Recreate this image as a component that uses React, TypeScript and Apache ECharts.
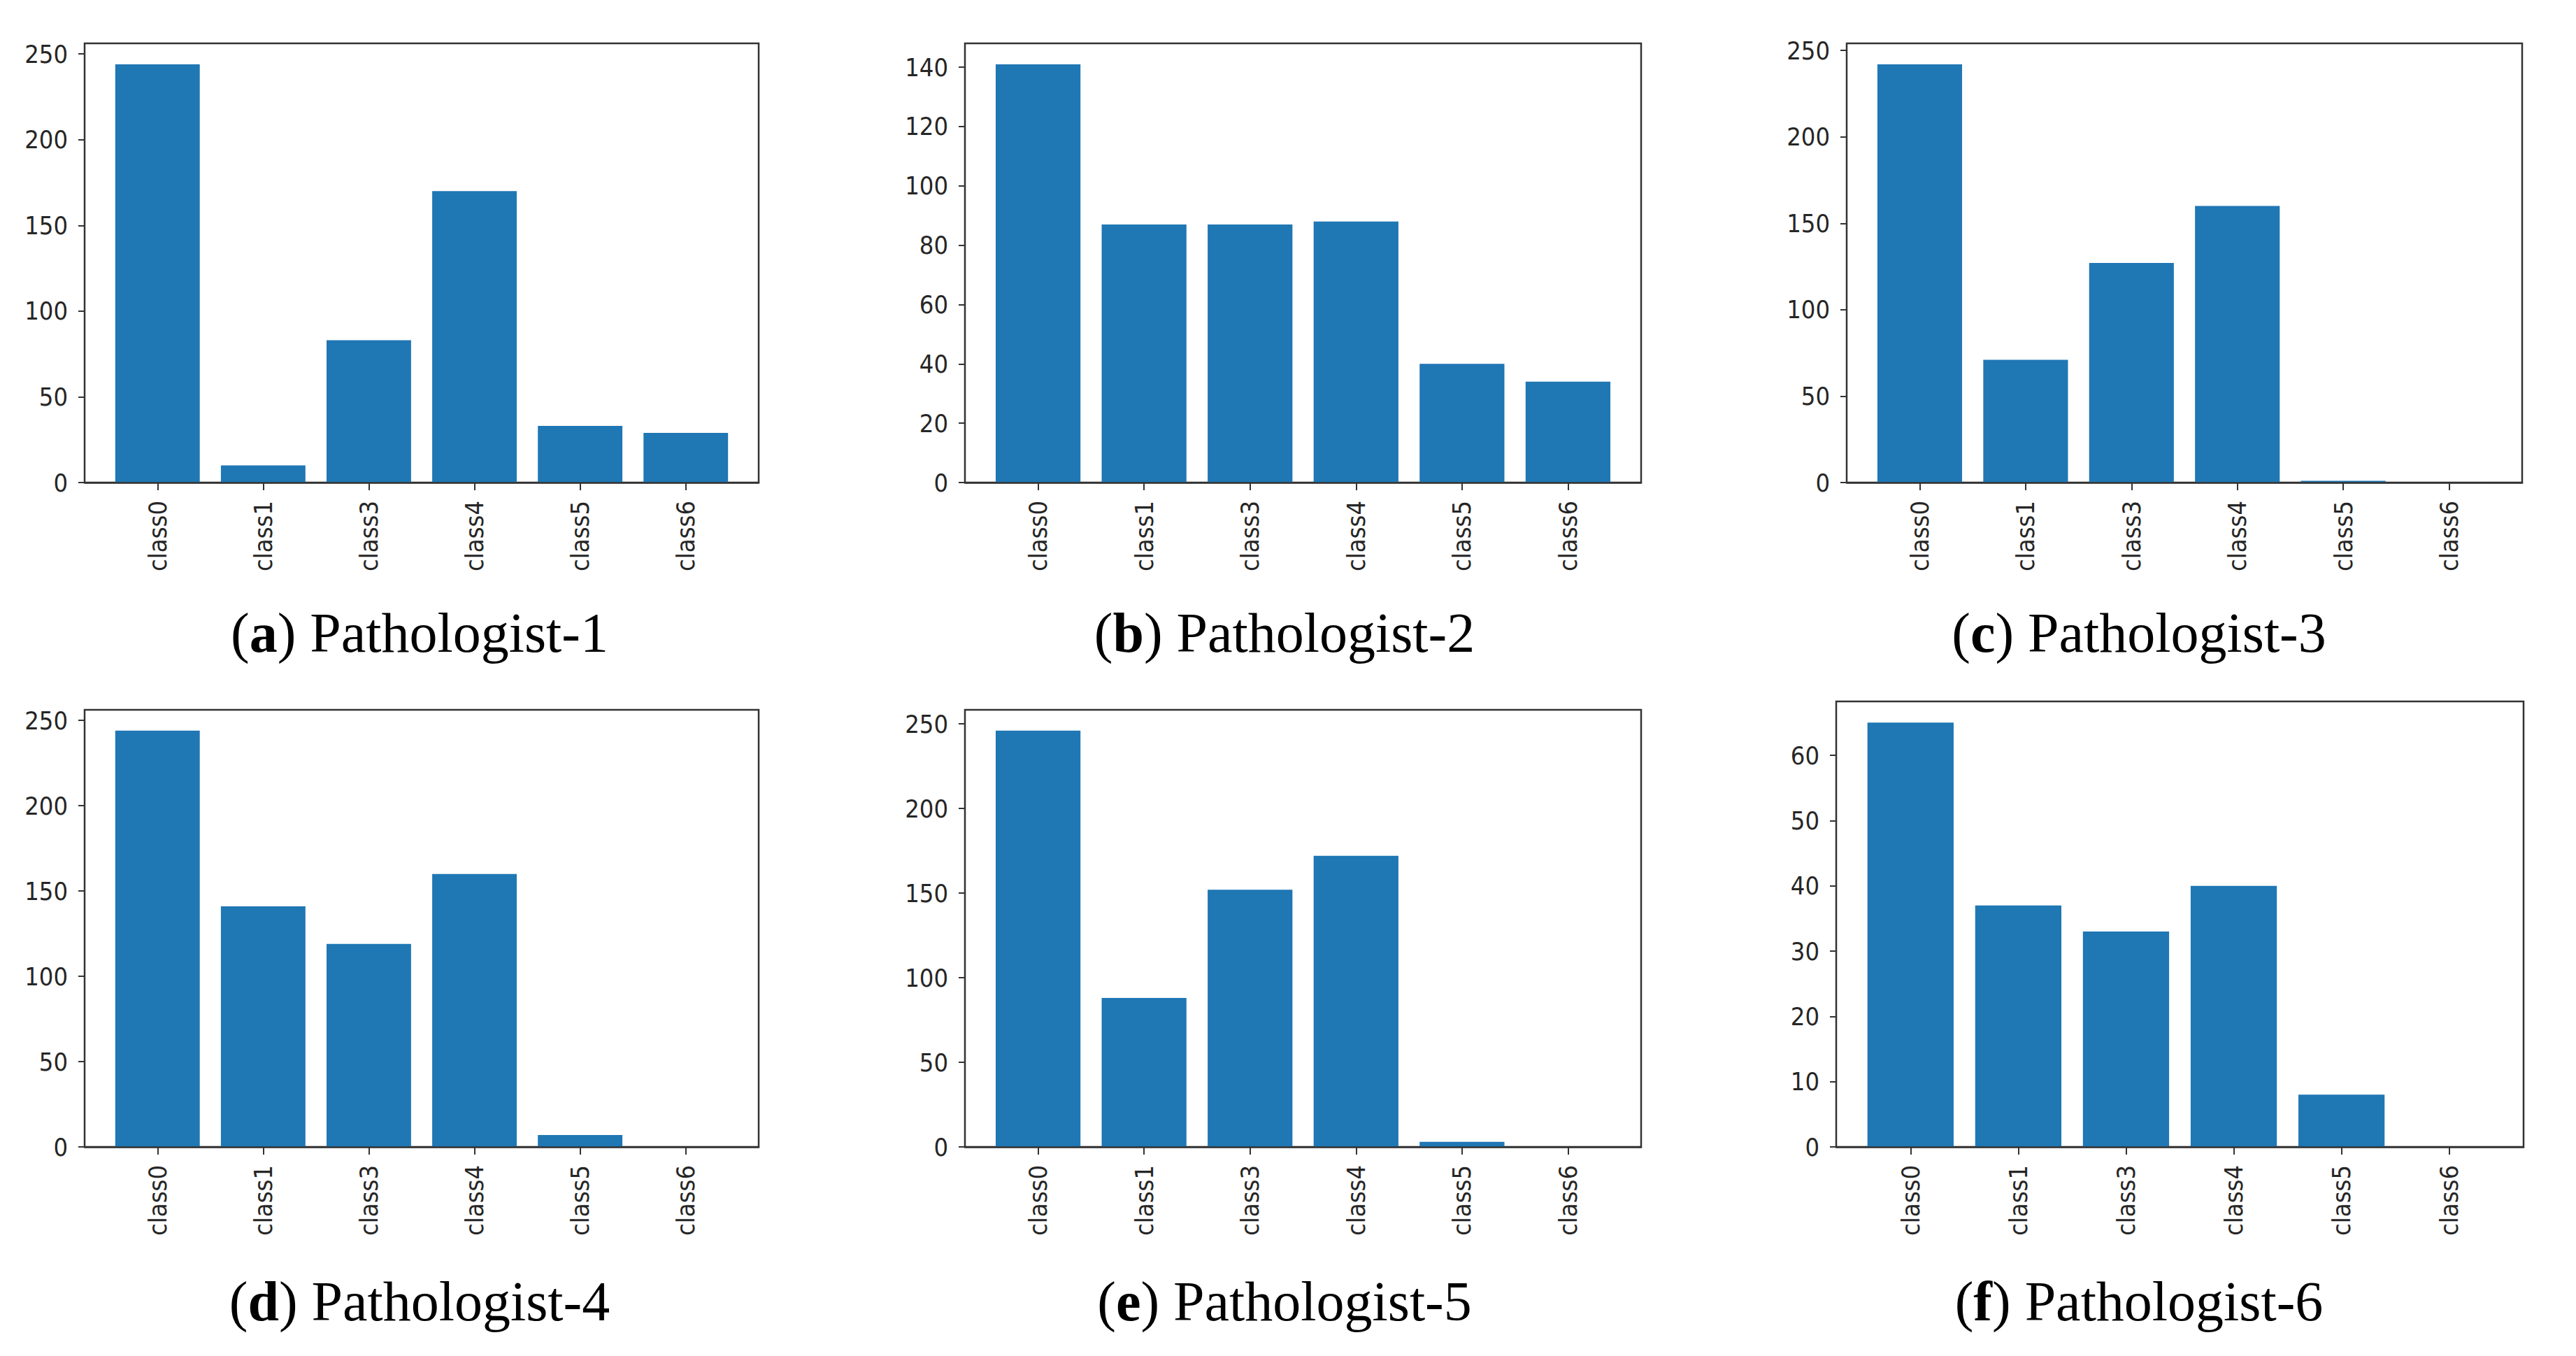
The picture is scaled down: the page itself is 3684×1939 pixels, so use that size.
import React, { useEffect, useRef } from "react";
import * as echarts from "echarts";

// ---- data ----
const CATEGORIES = ["class0", "class1", "class3", "class4", "class5", "class6"];

const PATHOLOGIST_1 = [244, 10, 83, 170, 33, 29];
const PATHOLOGIST_2 = [141, 87, 87, 88, 40, 34];
const PATHOLOGIST_3 = [242, 71, 127, 160, 1, 0];
const PATHOLOGIST_4 = [244, 141, 119, 160, 7, 0];
const PATHOLOGIST_5 = [246, 88, 152, 172, 3, 0];
const PATHOLOGIST_6 = [65, 37, 33, 40, 8, 0];

const TICKS_250 = [0, 50, 100, 150, 200, 250];
const TICKS_140 = [0, 20, 40, 60, 80, 100, 120, 140];
const TICKS_60 = [0, 10, 20, 30, 40, 50, 60];

const PANEL_LETTERS = ["a", "b", "c", "d", "e", "f"];
const PANEL_TITLES = [
  "Pathologist-1",
  "Pathologist-2",
  "Pathologist-3",
  "Pathologist-4",
  "Pathologist-5",
  "Pathologist-6",
];
const PANEL_VALUES = [
  PATHOLOGIST_1,
  PATHOLOGIST_2,
  PATHOLOGIST_3,
  PATHOLOGIST_4,
  PATHOLOGIST_5,
  PATHOLOGIST_6,
];
const PANEL_TICKS = [TICKS_250, TICKS_140, TICKS_250, TICKS_250, TICKS_250, TICKS_60];

// ---- layout (pixels) ----
const GRIDS = [
  { left: 121, top: 62, width: 964, height: 628 },
  { left: 1380, top: 62, width: 967, height: 628 },
  { left: 2641, top: 62, width: 966, height: 628 },
  { left: 121, top: 1015, width: 964, height: 625 },
  { left: 1380, top: 1015, width: 967, height: 625 },
  { left: 2626, top: 1003, width: 983, height: 637 },
];
const TITLE_POS = [
  { x: 600, y: 905 },
  { x: 1837, y: 905 },
  { x: 3059, y: 905 },
  { x: 600, y: 1861 },
  { x: 1837, y: 1861 },
  { x: 3059, y: 1861 },
];

const BAR_COLOR = "#1f77b4";
const AXIS_COLOR = "#333333";
const LABEL_FONT = '"Liberation Sans Narrow", "DejaVu Sans Condensed", "Liberation Sans", sans-serif';
const TITLE_FONT = '"Liberation Serif", "DejaVu Serif", serif';

export default function App() {
  const ref = useRef<HTMLDivElement>(null);

  useEffect(() => {
    if (!ref.current) return;
    const chart = echarts.init(ref.current, undefined, { renderer: "svg" });

    const grid: any[] = [];
    const xAxis: any[] = [];
    const yAxis: any[] = [];
    const series: any[] = [];
    const graphic: any[] = [];

    PANEL_VALUES.forEach((vals, i) => {
      const g = GRIDS[i];
      grid.push({
        left: g.left,
        top: g.top,
        width: g.width,
        height: g.height,
        show: true,
        borderColor: AXIS_COLOR,
        borderWidth: 2.5,
        backgroundColor: "transparent",
        containLabel: false,
      });
      const catIdx = CATEGORIES.map((_, k) => k);
      xAxis.push({
        type: "value",
        gridIndex: i,
        position: "bottom",
        min: -0.69,
        max: CATEGORIES.length - 1 + 0.69,
        z: 10,
        splitLine: { show: false },
        axisLine: { show: true, onZero: false, lineStyle: { color: AXIS_COLOR, width: 2.5 } },
        axisTick: {
          show: true,
          customValues: catIdx,
          length: 11,
          lineStyle: { color: AXIS_COLOR, width: 2 },
        },
        axisLabel: {
          show: true,
          customValues: catIdx,
          rotate: 90,
          margin: 26,
          fontSize: 36,
          fontFamily: LABEL_FONT,
          color: "#262626",
          formatter: (v: number) => CATEGORIES[Math.round(v)] ?? "",
        },
      });
      const ticks = PANEL_TICKS[i];
      yAxis.push({
        type: "value",
        gridIndex: i,
        position: "left",
        min: 0,
        max: Math.max(...vals) * 1.05,
        splitLine: { show: false },
        axisLine: { show: false, onZero: false },
        axisTick: {
          show: true,
          customValues: ticks,
          length: 9,
          lineStyle: { color: AXIS_COLOR, width: 2 },
        },
        axisLabel: {
          show: true,
          customValues: ticks,
          margin: 24,
          fontSize: 36,
          fontFamily: LABEL_FONT,
          color: "#262626",
        },
      });
      series.push({
        type: "bar",
        xAxisIndex: i,
        yAxisIndex: i,
        barWidth: "80%",
        itemStyle: { color: BAR_COLOR },
        data: vals.map((v, k) => [k, v]),
        silent: true,
      });
      const t = TITLE_POS[i];
      graphic.push({
        type: "text",
        x: t.x,
        y: t.y,
        style: {
          text: `{p|(}{b|${PANEL_LETTERS[i]}}{p|) ${PANEL_TITLES[i]}}`,
          align: "center",
          verticalAlign: "middle",
          rich: {
            p: { fontFamily: TITLE_FONT, fontSize: 80, fill: "#000", color: "#000" },
            b: { fontFamily: TITLE_FONT, fontSize: 80, fontWeight: "bold", fill: "#000", color: "#000" },
          },
        },
      });
    });

    chart.setOption({
      animation: false,
      backgroundColor: "#ffffff",
      grid,
      xAxis,
      yAxis,
      series,
      graphic,
    });

    return () => chart.dispose();
  }, []);

  return (
    <div
      ref={ref}
      style={{ position: "absolute", left: 0, top: 0, width: 3684, height: 1939 }}
    />
  );
}
